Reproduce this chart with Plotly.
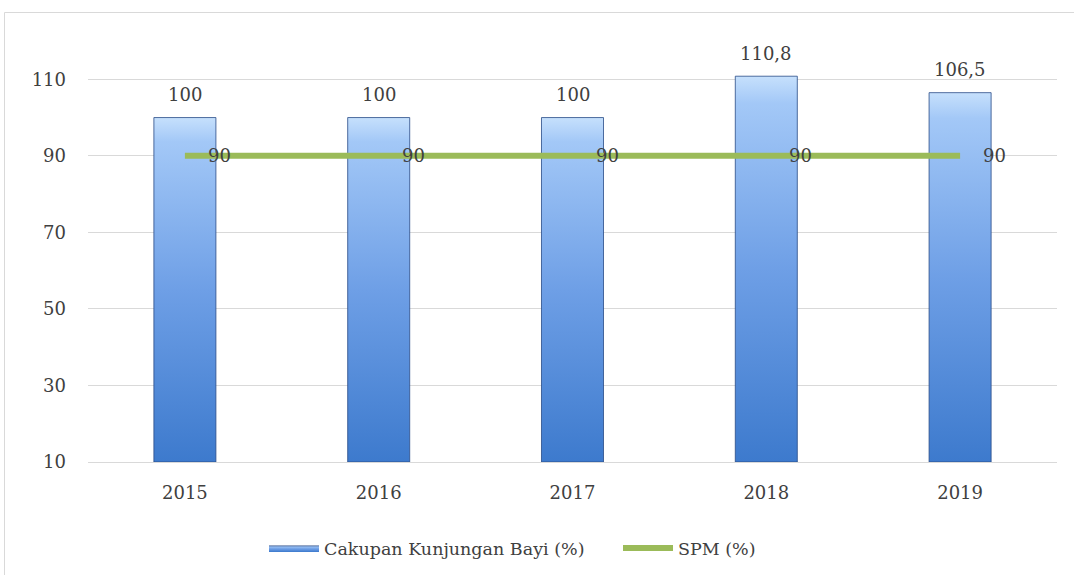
import plotly.graph_objects as go

years = ["2015", "2016", "2017", "2018", "2019"]
cakupan = [100, 100, 100, 110.8, 106.5]
spm = [90, 90, 90, 90, 90]
y_ticks = [10, 30, 50, 70, 90, 110]

FONT = "DejaVu Serif"
TXT = "#404040"
GRID = "#D9D9D9"
BAR_W = 0.32
Y_MIN, Y_MAX = 10, 120


def fmt(v):
    s = ("%g" % v)
    return s.replace(".", ",")


xs = list(range(len(years)))
fig = go.Figure()

# Bars drawn as gradient-filled polygons from the data
for i, v in zip(xs, cakupan):
    x0, x1 = i - BAR_W / 2, i + BAR_W / 2
    fig.add_trace(go.Scatter(
        x=[x0, x1, x1, x0, x0],
        y=[Y_MIN, Y_MIN, v, v, Y_MIN],
        mode="lines",
        fill="toself",
        fillgradient=dict(
            type="vertical",
            colorscale=[[0, "#3D7ACD"], [0.5, "#6E9FE6"], [0.93, "#A3C8F7"], [1, "#C6E0FC"]],
        ),
        line=dict(color="rgba(40,75,135,0.8)", width=1),
        name="Cakupan Kunjungan Bayi (%)",
        legendgroup="bar",
        showlegend=(i == 0),
        hoverinfo="skip",
    ))

fig.add_trace(go.Scatter(
    x=xs, y=spm,
    mode="lines",
    line=dict(color="#9BBB59", width=6),
    name="SPM (%)",
))

for i, v in zip(xs, spm):
    fig.add_annotation(
        x=i, y=v, text=fmt(v), showarrow=False, xanchor="left", xshift=21,
        font=dict(family=FONT, size=18, color=TXT),
    )

for i, v in zip(xs, cakupan):
    fig.add_annotation(
        x=i, y=v, text=fmt(v), showarrow=False, yshift=23,
        font=dict(family=FONT, size=18, color=TXT),
    )

W, H = 1074, 575
L, T = 88, 41
pw, ph = 969, 421
R, B = W - L - pw, H - T - ph

fig.add_shape(
    type="rect", xref="paper", yref="paper",
    x0=(4.5 - L) / pw, x1=1.2, y0=-0.6, y1=(ph + T - 12.5) / ph,
    line=dict(color="#D9D9D9", width=1), fillcolor="rgba(0,0,0,0)", layer="below",
)

fig.update_layout(
    width=W, height=H,
    margin=dict(l=L, r=R, t=T, b=B, autoexpand=False),
    paper_bgcolor="white", plot_bgcolor="white",
    font=dict(family=FONT, size=18, color=TXT),
    xaxis=dict(
        range=[-0.5, len(years) - 0.5],
        tickmode="array", tickvals=xs, ticktext=years,
        showgrid=False, zeroline=False,
        showline=True, linecolor=GRID, linewidth=1,
        ticks="", ticklabelstandoff=14, automargin=False,
        tickfont=dict(family=FONT, size=18, color=TXT),
    ),
    yaxis=dict(
        range=[Y_MIN, Y_MAX],
        tickmode="array", tickvals=y_ticks,
        showgrid=True, gridcolor=GRID, gridwidth=1,
        zeroline=False, showline=False,
        ticks="", ticklabelstandoff=21, automargin=False,
        tickfont=dict(family=FONT, size=18, color=TXT),
    ),
    legend=dict(
        orientation="h",
        x=(264 - L) / pw, xanchor="left",
        y=(ph + T - 548) / ph, yanchor="middle",
        font=dict(family=FONT, size=17.5, color=TXT),
        itemwidth=50, tracegroupgap=0,
        entrywidth=289, entrywidthmode="pixels",
        bgcolor="rgba(0,0,0,0)",
    ),
    showlegend=True,
)

fig.write_html(
    "out.html",
    config={"displayModeBar": False},
    post_script="document.body.style.margin='0px';",
)
